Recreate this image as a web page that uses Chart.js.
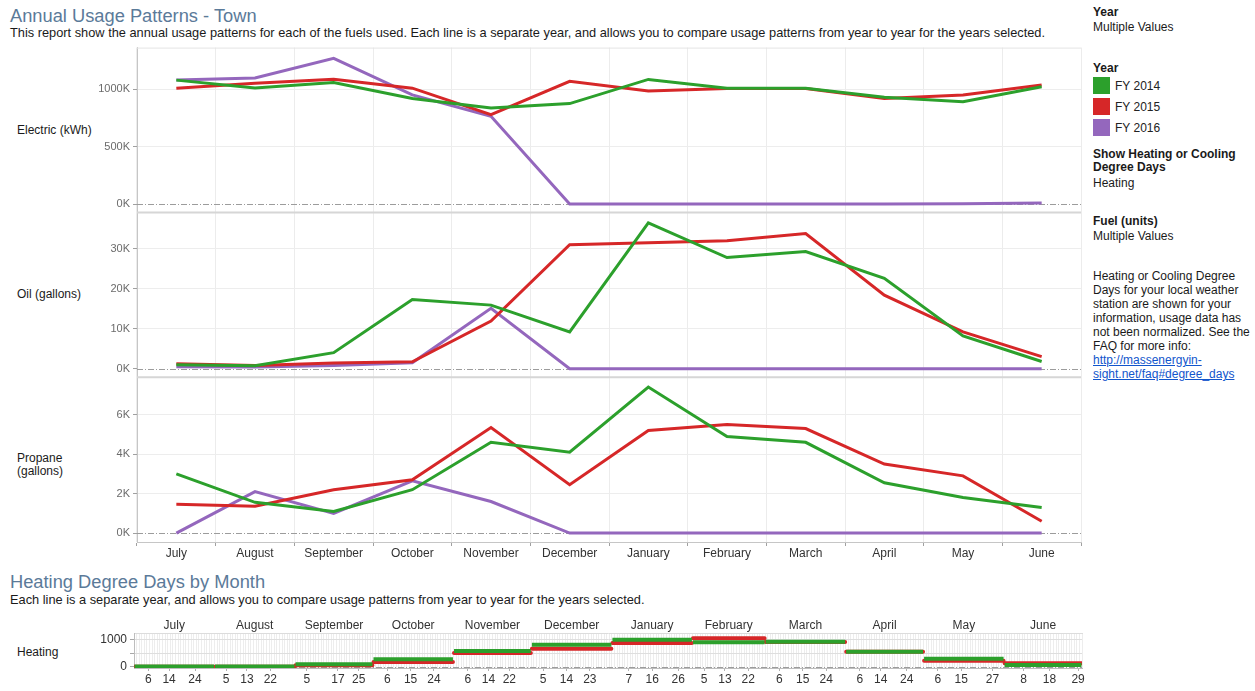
<!DOCTYPE html>
<html>
<head>
<title>Annual Usage Patterns - Town</title>
<script src="https://cdn.jsdelivr.net/npm/chart.js@4.4.1/dist/chart.umd.min.js"></script>
<style>
  body { margin: 0; width: 1255px; height: 691px; background: #fff; position: relative; overflow: hidden;
         font-family: "Liberation Sans", Arial, sans-serif; color: #222; }
  .abs { position: absolute; white-space: nowrap; }
  .title { font-size: 18.3px; line-height: 20px; color: #5b7a99; left: 10px; }
  .sub { font-size: 12.8px; line-height: 14px; left: 10px; color: #1a1a1a; }
  .row { font-size: 12px; line-height: 13px; left: 17px; color: #1a1a1a; }
  .side { left: 1093px; font-size: 12px; line-height: 14px; color: #1a1a1a; }
  .side b { font-weight: bold; }
  .sw { position: absolute; left: 1093px; width: 17px; height: 17px; }
  .lg { left: 1115px; font-size: 12px; line-height: 14px; }
  a { color: #1155cc; }
</style>
</head>
<body>
  <div class="abs title" style="top:6px">Annual Usage Patterns - Town</div>
  <div class="abs sub" style="top:26px">This report show the annual usage patterns for each of the fuels used. Each line is a separate year, and allows you to compare usage patterns from year to year for the years selected.</div>

  <div class="abs row" style="top:124px">Electric (kWh)</div>
  <div class="abs row" style="top:288px">Oil (gallons)</div>
  <div class="abs row" style="top:452px">Propane<br>(gallons)</div>

  <div class="abs side" style="top:5px"><b>Year</b></div>
  <div class="abs side" style="top:20px">Multiple Values</div>
  <div class="abs side" style="top:61px"><b>Year</b></div>
  <div class="sw" style="top:77px;background:#2ca02c"></div>
  <div class="abs lg" style="top:79px">FY 2014</div>
  <div class="sw" style="top:98px;background:#d62728"></div>
  <div class="abs lg" style="top:100px">FY 2015</div>
  <div class="sw" style="top:119px;background:#9467bd"></div>
  <div class="abs lg" style="top:121px">FY 2016</div>
  <div class="abs side" style="top:148px;line-height:13px"><b>Show Heating or Cooling<br>Degree Days</b></div>
  <div class="abs side" style="top:176px">Heating</div>
  <div class="abs side" style="top:214px"><b>Fuel (units)</b></div>
  <div class="abs side" style="top:229px">Multiple Values</div>
  <div class="abs side" style="top:269px">Heating or Cooling Degree<br>Days for your local weather<br>station are shown for your<br>information, usage data has<br>not been normalized. See the<br>FAQ for more info:<br><a href="#">http://massenergyin-<br>sight.net/faq#degree_days</a></div>

  <div class="abs title" style="top:572px">Heating Degree Days by Month</div>
  <div class="abs sub" style="top:593px">Each line is a separate year, and allows you to compare usage patterns from year to year for the years selected.</div>
  <div class="abs row" style="top:646px">Heating</div>

  <canvas id="usage" width="1090" height="532" style="position:absolute;left:0;top:38px"></canvas>
  <canvas id="hdd" width="1090" height="79" style="position:absolute;left:0;top:612px"></canvas>

<script>
const months = ['July', 'August', 'September', 'October', 'November', 'December',
                'January', 'February', 'March', 'April', 'May', 'June'];

// Electric (kWh)
const elec2014 = [1078000, 1010000, 1057000, 919000, 836000, 874000, 1084000, 1008000, 1008000, 928000, 890000, 1021000];
const elec2015 = [1008000, 1050000, 1085000, 1008000, 778000, 1068000, 983000, 1006000, 1005000, 919000, 948000, 1035000];
const elec2016 = [1078000, 1096000, 1268000, 950000, 764000, 0, 0, 0, 0, 0, 2000, 8000];

// Oil (gallons)
const oil2014 = [1000, 700, 4000, 17300, 15900, 9200, 36500, 27800, 29300, 22600, 8200, 1800];
const oil2015 = [1200, 800, 1400, 1700, 11900, 31000, 31500, 32000, 33800, 18400, 9200, 3000];
const oil2016 = [500, 400, 800, 1500, 15100, 0, 0, 0, 0, 0, 0, 0];

// Propane (gallons)
const prop2014 = [3000, 1560, 1100, 2200, 4600, 4100, 7400, 4900, 4600, 2550, 1800, 1300];
const prop2015 = [1460, 1360, 2200, 2700, 5350, 2450, 5200, 5500, 5300, 3500, 2900, 600];
const prop2016 = [0, 2100, 1000, 2650, 1600, 0, 0, 0, 0, 0, 0, 0];

const elecTicks = [0, 500000, 1000000];
const oilTicks = [0, 10000, 20000, 30000];
const propTicks = [0, 2000, 4000, 6000];

// heating degree days, one value per month
const hdd2014 = [5, 5, 88, 270, 573, 803, 982, 890, 912, 547, 292, 62];
const hdd2015 = [0, 0, 51, 172, 500, 657, 865, 1040, 900, 547, 219, 124];
const hddTicks = [0, 500, 1000];
const monthDays = [31, 31, 30, 31, 30, 31, 31, 28, 31, 30, 31, 30];
const hddDays = [[6, 14, 24], [5, 13, 22], [5, 17, 25], [6, 15, 24], [6, 14, 22], [5, 14, 23],
                 [7, 16, 26], [5, 13, 22], [6, 15, 24], [6, 14, 24], [6, 15, 27], [8, 18, 29]];

const GREEN = '#2ca02c', RED = '#d62728', PURPLE = '#9467bd';

Chart.defaults.font.family = '"Liberation Sans", Arial, sans-serif';
Chart.defaults.font.size = 12;

// dash-dot zero line on every y scale
const zeroLine = {
  id: 'zeroLine',
  beforeDatasetsDraw(chart) {
    const { ctx, chartArea } = chart;
    ctx.save();
    ctx.strokeStyle = '#9c9c9c';
    ctx.lineWidth = 1;
    ctx.setLineDash([6, 2, 1, 2]);
    Object.values(chart.scales).forEach(s => {
      if (s.axis !== 'y') return;
      const y = Math.round(s.getPixelForValue(0)) + 0.5;
      ctx.beginPath();
      ctx.moveTo(chartArea.left, y);
      ctx.lineTo(chartArea.right, y);
      ctx.stroke();
    });
    ctx.restore();
  }
};

// lines between the three fuel panes
const paneLines = {
  id: 'paneLines',
  beforeDatasetsDraw(chart) {
    if (chart.canvas.id !== 'usage') return;
    const { ctx, chartArea } = chart;
    ctx.save();
    ctx.strokeStyle = '#d6d6d6';
    ctx.lineWidth = 2;
    ['yElec', 'yOil'].forEach(id => {
      const y = chart.scales[id].bottom;
      ctx.beginPath();
      ctx.moveTo(chartArea.left, y);
      ctx.lineTo(chartArea.right, y);
      ctx.stroke();
    });
    ctx.strokeStyle = '#e4e4e4';
    ctx.lineWidth = 1;
    ctx.beginPath();
    ctx.moveTo(chartArea.left, chartArea.top + 0.5);
    ctx.lineTo(chartArea.right, chartArea.top + 0.5);
    ctx.stroke();
    ctx.restore();
  }
};

function fuelAxis(min, max, ticks) {
  return {
    type: 'linear',
    position: 'left',
    stack: 'fuel',
    stackWeight: 1,
    min: min,
    max: max,
    afterBuildTicks: s => { s.ticks = ticks.map(v => ({ value: v })); },
    afterFit: s => { s.width = 57; },
    ticks: { color: '#6b6b6b', font: { size: 11 }, padding: 3, callback: v => (v / 1000) + 'K' },
    grid: {
      color: c => (c.tick && c.tick.value === 0) ? 'rgba(0,0,0,0)' : '#ededed',
      tickColor: '#a0a0a0',
      tickLength: 4
    },
    border: { color: '#c6c6c6' }
  };
}

function line(label, data, color, axis) {
  return {
    label: label, data: data, yAxisID: axis,
    borderColor: color, backgroundColor: color,
    borderWidth: 3, pointRadius: 0, tension: 0, fill: false
  };
}

new Chart(document.getElementById('usage'), {
  type: 'line',
  data: {
    labels: months,
    datasets: [
      line('FY 2014', elec2014, GREEN, 'yElec'),
      line('FY 2015', elec2015, RED, 'yElec'),
      line('FY 2016', elec2016, PURPLE, 'yElec'),
      line('FY 2014', oil2014, GREEN, 'yOil'),
      line('FY 2015', oil2015, RED, 'yOil'),
      line('FY 2016', oil2016, PURPLE, 'yOil'),
      line('FY 2014', prop2014, GREEN, 'yProp'),
      line('FY 2015', prop2015, RED, 'yProp'),
      line('FY 2016', prop2016, PURPLE, 'yProp')
    ]
  },
  options: {
    responsive: false,
    devicePixelRatio: 1,
    animation: false,
    layout: { padding: { top: 7, left: 80, right: 9, bottom: 0 } },
    plugins: { legend: { display: false }, tooltip: { enabled: false } },
    scales: {
      x: {
        type: 'category',
        offset: true,
        afterFit: s => { s.height = 28; },
        grid: { offset: true, color: '#ececec', tickColor: '#a0a0a0', tickLength: 4 },
        border: { color: '#c6c6c6' },
        ticks: { color: '#333', font: { size: 12 }, padding: 0, maxRotation: 0, autoSkip: false }
      },
      yProp: fuelAxis(-450, 7900, propTicks),
      yOil: fuelAxis(-2140, 39100, oilTicks),
      yElec: fuelAxis(-73000, 1361000, elecTicks)
    }
  },
  plugins: [zeroLine, paneLines]
});

// month start offsets along the day axis
const monthStart = [];
monthDays.reduce((acc, d) => { monthStart.push(acc); return acc + d; }, 0);
const dayTickValues = [];
const dayTickLabels = [];
hddDays.forEach((days, i) => days.forEach(d => {
  dayTickValues.push(monthStart[i] + d - 0.5);
  dayTickLabels.push(String(d));
}));

function monthSteps(vals) {
  const pts = [];
  vals.forEach((v, i) => {
    pts.push({ x: monthStart[i] + 0.2, y: v });
    pts.push({ x: monthStart[i] + monthDays[i] - 0.2, y: v });
    pts.push({ x: monthStart[i] + monthDays[i], y: null });
  });
  return pts;
}

new Chart(document.getElementById('hdd'), {
  type: 'line',
  data: {
    datasets: [
      { label: 'FY 2014', data: monthSteps(hdd2014), borderColor: GREEN, borderWidth: 4, pointRadius: 0, spanGaps: false, borderCapStyle: 'butt' },
      { label: 'FY 2015', data: monthSteps(hdd2015), borderColor: RED, borderWidth: 4, pointRadius: 0, spanGaps: false, borderCapStyle: 'round' }
    ]
  },
  options: {
    responsive: false,
    devicePixelRatio: 1,
    animation: false,
    layout: { padding: { top: 0, left: 80, right: 8, bottom: 0 } },
    plugins: { legend: { display: false }, tooltip: { enabled: false } },
    scales: {
      x: {
        type: 'linear', position: 'bottom', min: 0, max: 365,
        afterBuildTicks: s => { s.ticks = dayTickValues.map(v => ({ value: v })); },
        afterFit: s => { s.height = 23; },
        ticks: { color: '#333', font: { size: 12 }, padding: 1, autoSkip: false, maxRotation: 0,
                 callback: (v, i) => dayTickLabels[i] },
        grid: { drawOnChartArea: false, tickLength: 3, tickColor: '#b0b0b0' },
        border: { color: '#bdbdbd' }
      },
      xDays: {
        type: 'linear', position: 'bottom', min: 0, max: 365,
        afterBuildTicks: s => { const t = []; for (let d = 0; d <= 365; d++) t.push({ value: d }); s.ticks = t; },
        afterFit: s => { s.height = 0; },
        ticks: { display: false },
        grid: { color: '#ededed', drawTicks: false },
        border: { display: false }
      },
      xMonth: {
        type: 'linear', position: 'top', min: 0, max: 365,
        afterBuildTicks: s => { s.ticks = months.map((m, i) => ({ value: monthStart[i] + monthDays[i] / 2 })); },
        afterFit: s => { s.height = 21; },
        ticks: { color: '#333', font: { size: 12 }, padding: 0, autoSkip: false, maxRotation: 0,
                 callback: (v, i) => months[i] },
        grid: { display: false, drawTicks: false, tickLength: 0 },
        border: { color: '#dcdcdc' }
      },
      y: {
        min: -47, max: 1230,
        afterBuildTicks: s => { s.ticks = hddTicks.map(v => ({ value: v })); },
        afterFit: s => { s.width = 54; },
        ticks: { color: '#333', font: { size: 12 }, padding: 3, callback: v => (v === 500 ? '' : v) },
        grid: {
          color: c => (c.tick && c.tick.value === 0) ? 'rgba(0,0,0,0)' : '#dedede',
          tickColor: '#a8a8a8',
          tickLength: 4
        },
        border: { color: '#bdbdbd' }
      }
    }
  },
  plugins: [zeroLine]
});
</script>
</body>
</html>
